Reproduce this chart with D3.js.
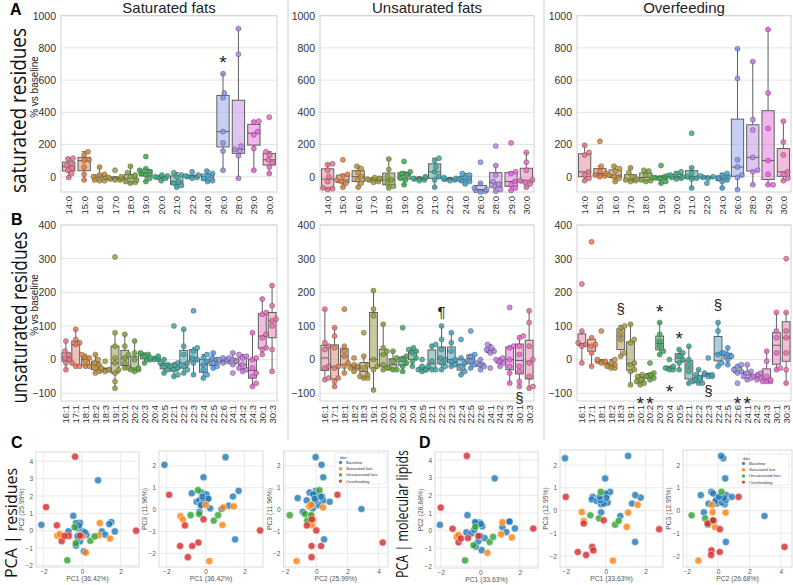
<!DOCTYPE html>
<html>
<head>
<meta charset="utf-8">
<script src="https://cdn.jsdelivr.net/npm/d3@7"></script>
<style>
  body { margin: 0; background: #fff; }
  svg { display: block; }
</style>
</head>
<body>
<svg id="fig" width="793" height="585"></svg>
<script>
// ---- categories ----
const satCats = ["14:0","15:0","16:0","17:0","18:0","19:0","20:0","21:0","22:0","24:0","26:0","28:0","29:0","30:0"];
const unsatCats = ["16:1","17:1","18:1","18:2","18:3","19:1","20:1","20:2","20:3","20:4","20:5","22:1","22:2","22:3","22:4","22:5","22:6","24:1","24:2","24:3","30:1","30:3"];
const dietTitles = ["Saturated fats", "Unsaturated fats", "Overfeeding"];

// ---- A: saturated residues, % vs baseline (one list of subjects per category) ----
const satResSat = [
  [115, 110, 85, 70, 55, 40, 20, -5], [155, 135, 105, 100, 60, 15, -20], [60, 15, 10, 0, -5, -20, -25, -25],
  [40, 0, -5, -10, -15, -20, -20], [65, 25, 10, 0, -20, -30, -35, -40], [125, 50, 40, 30, 20, 10, -10, -30],
  [10, 5, 0, -5, -10, -25], [25, 10, 0, -30, -40, -55, -65], [30, 10, 5, 0, -5, -10],
  [35, 20, 5, -10, -25, -30], [640, 520, 490, 280, 210, 160, 40], [920, 760, 190, 170, 160, 130, -10],
  [345, 340, 280, 260, 175, 40], [370, 155, 135, 105, 85, 60, 20]
];
const satResUnsat = [
  [80, 75, 40, 0, -30, -70, -75, -80], [105, 15, 5, -20, -30, -40, -65], [65, 50, 25, 0, -20, -40, -65],
  [-5, -10, -15, -15, -20, -30, -35], [110, 45, 0, -20, -40, -60, -70], [95, 30, 20, 10, -10, -20, -50],
  [0, -5, -10, -15, -20, -25], [115, 100, 60, 30, 0, -20, -65], [-5, -10, -15, -15, -20, -25],
  [20, 10, -5, -15, -25, -30, -45], [90, -40, -70, -80, -85, -90, -95], [190, 70, 10, -30, -45, -60, -80, -90],
  [210, 30, 20, -30, -50, -70, -85], [150, 90, 40, -20, -25, -35, -45, -65]
];
const satResOver = [
  [195, 150, 135, 30, 10, -10, -25], [220, 65, 35, 20, 10, 5, 0], [65, 50, 35, 10, 0, -10, -30],
  [55, 25, 0, -15, -20, -25, -30], [40, 35, 10, -5, -20, -25, -30], [70, 5, 0, -5, -10, -30, -40],
  [30, 20, 10, 0, -5, -10, -15], [270, 55, 20, 0, -10, -15, -70], [5, 0, -5, -10, -40],
  [20, 10, 0, -10, -20, -30, -70], [795, 610, 105, 60, 10, -5, -80], [715, 355, 290, 120, 40, 30, -50],
  [915, 520, 300, 100, 15, -50, -50], [345, 215, 135, 30, 15, -10, -25]
];

// ---- B: unsaturated residues ----
const unsatResSat = [
  [55, 25, 15, 5, 0, -10, -30], [90, 60, 50, 45, -10, -20, -20], [15, 10, 5, -5, -20, -20],
  [15, 0, -10, -15, -25, -35, -40], [-5, -25, -30, -30, -30, -35], [305, 80, 40, 5, -10, -30, -40, -65, -85],
  [75, 40, 15, 5, -10, -25, -25], [55, 20, 0, -25, -30, -30, -35], [20, 18, 15, 10, 0, -10],
  [10, 5, 5, 0, 0, 0], [0, -10, -15, -20, -30, -40], [100, -10, -15, -20, -25, -30, -45, -50],
  [90, 40, 15, -10, -20, -30, -40], [145, 35, 25, 5, 0, -10, -45], [15, 5, -5, -15, -30, -45, -55],
  [20, 5, 0, -10, -20, -25], [5, 0, -5, -10, -5, 0], [20, 5, 0, -5, -15, -40],
  [15, 10, 5, -15, -25, -35, -30], [80, 5, 0, -25, -40, -50, -70, -80], [180, 140, 135, 75, 65, 35, 15, 30],
  [220, 160, 120, 115, 100, 30, -35]
];
const unsatResUnsat = [
  [150, 50, 40, 30, -20, -25, -55, -60], [95, 70, 35, -20, -25, -55, -65, -80], [150, 40, 25, 10, -10, -20, -40],
  [5, -15, -20, -25, -25, -35], [80, 10, -15, -25, -45, -50, -55, -55], [205, 150, 130, 0, -20, -30, -90],
  [105, 35, 25, 15, -15, -25, -30], [25, 5, -5, -25, -30, -30], [95, 10, 0, -10, -20, -35],
  [35, 30, 25, 20, 5, -5, -20], [0, -20, -30, -30, -35, -30], [45, 40, -5, -20, -30, -30],
  [100, 60, 30, 5, 0, -10, -20, -30], [80, 50, 25, 0, -5, -15, -20], [60, 5, -10, -20, -35, -45],
  [85, 15, 10, -5, -15, -25], [0, -10, -15, -20, -30], [45, 35, 30, 25, 20, -25],
  [5, 0, -5, -10, -20], [155, 40, 35, 0, -20, -40, -70], [70, 65, 40, 15, -20, -35, -65, -80],
  [145, 110, 40, 0, -10, -50, -80, -85]
];
const unsatResOver = [
  [225, 85, 50, 45, 40, -10], [350, 65, 45, 40, 20, -20], [85, 0, -5, -5, -10, -10],
  [0, -10, -15, -20, -25, -25], [100, 95, 80, 60, 20, 10], [105, 60, 50, -10, -15, -30, -35, -75],
  [-45, -50, -60, -65, -70, -75], [-10, -40, -45, -50, -55, -60], [110, 75, 55, 40, 25, 15],
  [0, -20, -25, -30, -30], [30, 20, 10, 0, -10, -30], [40, 0, -15, -35, -65, -70],
  [-30, -45, -55, -60, -70, -70], [5, -40, -45, -45, -50, -50], [110, 85, 20, 15, -10, -20],
  [35, 20, 15, 10, 0, -15], [-15, -20, -30, -35, -40, -70], [-15, -35, -40, -50, -55, -60],
  [-40, -45, -50, -55, -60], [25, -5, -50, -60, -65, -65, -65], [140, 85, 65, 20, -25, -30],
  [300, 140, 85, 65, 20, -30, -70]
];

// significance marks: [diet index, category, value, symbol]
const marksA = [[0, "26:0", 740, "*"]];
const marksB = [
  [1, "22:2", 140, "¶"], [1, "30:1", -115, "§"],
  [2, "18:3", 150, "§"], [2, "20:1", -115, "*"], [2, "20:2", -115, "*"], [2, "20:3", 157, "*"],
  [2, "20:4", -80, "*"], [2, "20:5", 76, "*"], [2, "22:3", -95, "§"], [2, "22:4", 160, "§"],
  [2, "22:6", -115, "*"], [2, "24:1", -115, "*"]
];

// ---- C/D: PCA scores [PC1, PC2, PC3] ----
const dietNames = ["Baseline", "Saturated fats", "Unsaturated fats", "Overfeeding"];
const resBaseline = [
  [0.83, 2.9, 0.03], [-2.1, 0.34, 2.05], [1.03, -0.04, 2.4], [-0.1, 0.45, 1.48], [1.52, 0.5, -1.36],
  [0.1, -1.19, 0.53], [-0.31, -0.86, -0.1], [1.7, -0.04, 0.86], [1.41, 0.38, 0.6], [1.2, -0.23, 0.18],
  [-0.7, -0.04, 0.75], [-0.45, 0.86, 0.36], [0.24, -0.23, 0.06], [-0.31, 0.44, 0.42], [-0.24, 0.15, 0.21],
  [0.03, -0.04, 0.42], [-0.1, -0.61, 0.43], [-0.2, -0.43, 0.78], [0.05, -0.2, 0.7], [-0.22, -0.3, 0.21],
  [-0.15, 0.3, 0.59], [0.15, -0.1, 0.5]
];
const resSaturated = [
  [0.2, -1.26, -2.35], [0.87, -0.27, -0.7], [1.45, -0.45, 0.15], [0.92, 0.44, 0.1],
  [-1.28, -0.29, -0.3], [-1.15, -0.2, -0.45], [0.02, -0.32, 0.22]
];
const resUnsaturated = [
  [-0.38, 0.2, 0.89], [-0.76, -1.7, -0.25], [-0.32, -0.72, -0.2], [0.43, -0.58, -0.5], [0.65, -0.33, -0.25]
];
const resOverfeeding = [
  [-0.36, 4.26, -1.5], [-1.86, 1.36, 0.68], [2.8, 0.0, -0.95], [-1.05, -0.6, -0.72],
  [-0.1, -0.28, -0.44], [-1.3, 0.31, -1.66], [-0.68, -0.3, -1.66], [-0.9, -0.3, -2.17]
];
const lipBaseline = [
  [0.73, 2.96, -0.24], [-2.04, 0.33, 2.3], [1.12, 0.2, 2.4], [-0.03, 0.46, 1.41], [1.47, 0.5, -1.38],
  [0.07, -1.1, 0.68], [-0.23, -0.9, -0.08], [1.75, 0.13, 0.57], [1.48, 0.52, 0.68], [1.32, -0.08, 0.31],
  [-0.65, 0.88, 0.6], [-0.7, -0.1, 0.49], [0.22, -0.42, 0.82], [-0.45, -0.15, 0.42], [-0.23, 0.42, 0.28],
  [0.1, 0.25, 0.35], [-0.1, -0.6, 0.3], [0.0, -0.3, 0.75], [-0.26, 0.49, 0.45], [0.03, 0.38, 0.55],
  [-0.3, 0.05, 0.6]
];
const lipSaturated = [
  [0.36, -1.25, -2.2], [1.05, -0.2, -0.72], [1.6, -0.38, 0.25], [1.12, 0.48, -0.09],
  [-1.2, -0.35, -0.07], [-1.1, -0.25, -0.45]
];
const lipUnsaturated = [
  [-0.77, -1.68, -0.21], [-0.25, 0.22, 0.82], [-0.34, -0.82, -0.34], [0.47, -0.64, -0.62], [0.65, -0.35, -0.45]
];
const lipOverfeeding = [
  [-0.68, 4.23, -1.6], [-2.0, 1.31, 0.6], [2.68, 0.12, -0.82], [-1.4, 0.11, -1.82],
  [-1.1, -0.66, -0.57], [-0.62, -0.42, -1.75], [-0.98, -0.44, -1.95], [-0.1, -0.3, -0.43]
];
const resLabels = ["PC1 (36.42%)", "PC2 (25.99%)", "PC3 (11.96%)"];
const lipLabels = ["PC1 (33.63%)", "PC2 (26.68%)", "PC3 (12.95%)"];

// ---- styling ----
const FONT = '"Liberation Sans", Arial, sans-serif';
const dietColors = ["#1f77b4", "#ff7f0e", "#2ca02c", "#d62728"];
const GRID = "#e4e4e4", SPINE = "#d2d2d2", LINE = "#5f5f5f", TXT = "#333";

// seaborn "husl" palette (HSLuv)
const M = [[3.240969941904521, -1.537383177570093, -0.498610760293],
           [-0.96924363628087, 1.87596750150772, 0.041555057407175],
           [0.055630079696993, -0.20397695888897, 1.056971514242878]];
function maxChroma(L, H) {
  const hr = H / 180 * Math.PI, sub1 = Math.pow(L + 16, 3) / 1560896;
  const sub2 = sub1 > 0.0088564516 ? sub1 : L / 903.2962962;
  let best = Infinity;
  for (const [m1, m2, m3] of M) {
    for (const t of [0, 1]) {
      const top1 = (284517 * m1 - 94839 * m3) * sub2;
      const top2 = (838422 * m3 + 769860 * m2 + 731718 * m1) * L * sub2 - 769860 * t * L;
      const bot = (632260 * m3 - 126452 * m2) * sub2 + 126452 * t;
      const len = (top2 / bot) / (Math.sin(hr) - (top1 / bot) * Math.cos(hr));
      if (len > 0) best = Math.min(best, len);
    }
  }
  return best;
}
function husl(H, S, L) {
  const C = maxChroma(L, H) / 100 * S, hr = H / 180 * Math.PI;
  const U = Math.cos(hr) * C, V = Math.sin(hr) * C;
  const vu = U / (13 * L) + 0.19783000664283, vv = V / (13 * L) + 0.46831999493879;
  const Y = L > 8 ? Math.pow((L + 16) / 116, 3) : L / 903.2962962;
  const X = -(9 * Y * vu) / ((vu - 4) * vv - vu * vv);
  const Z = (9 * Y - 15 * vv * Y - vv * X) / (3 * vv);
  const f = c => c <= 0.0031308 ? 12.92 * c : 1.055 * Math.pow(c, 1 / 2.4) - 0.055;
  const rgb = M.map(r => Math.max(0, Math.min(1, f(r[0] * X + r[1] * Y + r[2] * Z))));
  return d3.rgb(rgb[0] * 255, rgb[1] * 255, rgb[2] * 255);
}
const huslPalette = n => d3.range(n).map(i => husl(((i / n + 0.01) % 1) * 359, 89.1, 64.35));

const svg = d3.select("#fig").style("font-family", FONT);

// dividers between the diet columns
[288, 544].forEach(x => svg.append("line").attr("x1", x).attr("x2", x).attr("y1", 0).attr("y2", 440)
  .attr("stroke", "#d0d0d0").attr("stroke-width", 1));

// ---- box + swarm panels ----
const colX = [[61, 277], [320, 534], [577, 791]];
const rows = [
  { cats: satCats, series: [satResSat, satResUnsat, satResOver], bottom: 192, top: 15.7,
    domain: [-95, 1000], ticks: d3.range(0, 1001, 200), marks: marksA, ylabY: 87 },
  { cats: unsatCats, series: [unsatResSat, unsatResUnsat, unsatResOver], bottom: 401, top: 225,
    domain: [-123, 400], ticks: d3.range(-100, 401, 100), marks: marksB, ylabY: 305 }
];

function swarm(vals, y, r, maxW) {
  const pts = vals.map(v => ({ v, py: y(v) })).sort((a, b) => b.py - a.py);
  const placed = [];
  pts.forEach(p => {
    const cands = [0];
    placed.forEach(q => {
      const dy = p.py - q.py;
      if (Math.abs(dy) < 2 * r) {
        const dx = Math.sqrt(4 * r * r - dy * dy);
        cands.push(q.dx + dx, q.dx - dx);
      }
    });
    cands.sort((a, b) => Math.abs(a) - Math.abs(b));
    p.dx = cands.find(c => placed.every(q => (q.dx - c) ** 2 + (q.py - p.py) ** 2 >= 4 * r * r - 1e-6));
    placed.push(p);
  });
  placed.forEach(p => { p.dx = Math.max(-maxW, Math.min(maxW, p.dx)); });
  return placed;
}

rows.forEach(row => {
  const pal = huslPalette(row.cats.length);
  const y = d3.scaleLinear().domain(row.domain).range([row.bottom, row.top]);

  row.series.forEach((data, di) => {
    const [xa, xb] = colX[di];
    const x = d3.scaleBand().domain(row.cats).range([xa, xb]);
    const g = svg.append("g");

    g.selectAll("line.grid").data(row.ticks).join("line")
      .attr("x1", xa).attr("x2", xb).attr("y1", d => y(d)).attr("y2", d => y(d))
      .attr("stroke", GRID).attr("stroke-width", 1);
    g.append("rect").attr("x", xa).attr("y", row.top).attr("width", xb - xa)
      .attr("height", row.bottom - row.top).attr("fill", "none").attr("stroke", SPINE);

    const yAx = g.append("g").attr("transform", `translate(${xa},0)`)
      .call(d3.axisLeft(y).tickValues(row.ticks).tickSize(0).tickPadding(5).tickFormat(d3.format("d")));
    yAx.select(".domain").remove();
    yAx.selectAll("text").attr("font-size", 10.5).attr("fill", TXT).attr("font-family", FONT);

    const xAx = g.append("g").attr("transform", `translate(0,${row.bottom})`)
      .call(d3.axisBottom(x).tickSize(0));
    xAx.select(".domain").remove();
    xAx.selectAll("text").attr("transform", "rotate(-90)").attr("text-anchor", "end")
      .attr("x", -4).attr("y", 0).attr("dy", null).attr("dominant-baseline", "central")
      .attr("font-size", 9.5).attr("fill", TXT).attr("font-family", FONT);

    const bw = x.bandwidth() * 0.8;
    row.cats.forEach((c, ci) => {
      const vals = data[ci].slice().sort(d3.ascending);
      const q1 = d3.quantile(vals, 0.25), med = d3.quantile(vals, 0.5), q3 = d3.quantile(vals, 0.75);
      const iqr = q3 - q1;
      const lo = d3.min(vals.filter(v => v >= q1 - 1.5 * iqr));
      const hi = d3.max(vals.filter(v => v <= q3 + 1.5 * iqr));
      const cx = x(c) + x.bandwidth() / 2;
      const fill = d3.hsl(pal[ci]); fill.s *= 0.75;
      const bg = g.append("g");
      [[lo, q1], [q3, hi]].forEach(([a, b]) => bg.append("line")
        .attr("x1", cx).attr("x2", cx).attr("y1", y(a)).attr("y2", y(b))
        .attr("stroke", LINE).attr("stroke-width", 1));
      [lo, hi].forEach(v => bg.append("line")
        .attr("x1", cx - bw * 0.2).attr("x2", cx + bw * 0.2).attr("y1", y(v)).attr("y2", y(v))
        .attr("stroke", LINE).attr("stroke-width", 1));
      bg.append("rect").attr("x", cx - bw / 2).attr("y", y(q3)).attr("width", bw)
        .attr("height", Math.max(0.5, y(q1) - y(q3)))
        .attr("fill", fill.formatHex()).attr("fill-opacity", 0.5)
        .attr("stroke", LINE).attr("stroke-width", 1);
      bg.append("line").attr("x1", cx - bw / 2).attr("x2", cx + bw / 2)
        .attr("y1", y(med)).attr("y2", y(med)).attr("stroke", LINE).attr("stroke-width", 1);

      const r = 2.5;
      bg.selectAll("circle").data(swarm(data[ci], y, r, bw / 2)).join("circle")
        .attr("cx", d => cx + d.dx).attr("cy", d => d.py).attr("r", r)
        .attr("fill", pal[ci].formatHex()).attr("fill-opacity", 0.85)
        .attr("stroke", "#555").attr("stroke-width", 0.5);
    });

    // column title
    if (row === rows[0]) {
      svg.append("text").attr("x", (xa + xb) / 2).attr("y", 12.5).attr("text-anchor", "middle")
        .attr("font-size", 15).attr("fill", "#222").text(dietTitles[di]);
    }
    // significance symbols
    row.marks.filter(m => m[0] === di).forEach(([, c, v, s]) => {
      const fs = s === "*" ? 19 : 15;
      const off = s === "*" ? 0.6 * fs : 0.3 * fs;
      g.append("text").attr("x", x(c) + x.bandwidth() / 2).attr("y", y(v) + off)
        .attr("text-anchor", "middle").attr("font-size", fs).attr("fill", "#222").text(s);
    });
  });

  svg.append("text").attr("transform", `translate(38,${row.ylabY}) rotate(-90)`)
    .attr("text-anchor", "middle").attr("font-size", 10).attr("fill", "#222").text("% vs baseline");
});

// ---- row labels ----
const bigLabel = (x, y, txt, fs, len) => svg.append("text")
  .attr("transform", `translate(${x},${y}) rotate(-90)`).attr("text-anchor", "middle")
  .attr("font-family", '"Open Sans", "Noto Sans", sans-serif').attr("font-size", fs).attr("fill", "#111")
  .attr("textLength", len).attr("lengthAdjust", "spacingAndGlyphs").text(txt);
bigLabel(26, 110.5, "saturated residues", 22, 165);
bigLabel(27, 317.5, "unsaturated residues", 22, 172);
bigLabel(17, 523, "PCA | residues", 16, 110);
bigLabel(408, 514, "PCA | molecular lipids", 16, 128);

[["A", 10, 15], ["B", 11, 225], ["C", 11, 448], ["D", 419, 448]].forEach(([t, x, y]) =>
  svg.append("text").attr("x", x).attr("y", y).attr("font-size", 16).attr("font-weight", "bold")
    .attr("fill", "#000").text(t));

// ---- PCA scatter panels ----
const resSets = [resBaseline, resSaturated, resUnsaturated, resOverfeeding];
const lipSets = [lipBaseline, lipSaturated, lipUnsaturated, lipOverfeeding];
const scatterPanels = [
  { sets: resSets, labels: resLabels, xi: 0, yi: 1, box: [36, 452, 139, 567], xd: [-2.38, 2.95], yd: [-2.09, 4.53], xt: [-2, 0, 2], yt: d3.range(-2, 5) },
  { sets: resSets, labels: resLabels, xi: 0, yi: 2, box: [159, 451, 263, 567], xd: [-2.38, 2.95], yd: [-2.62, 2.68], xt: [-2, 0, 2], yt: d3.range(-2, 3) },
  { sets: resSets, labels: resLabels, xi: 1, yi: 2, box: [283.5, 451, 388, 567], xd: [-2.1, 4.6], yd: [-2.62, 2.68], xt: [-2, 0, 2, 4], yt: d3.range(-2, 3), legend: [335, 453] },
  { sets: lipSets, labels: lipLabels, xi: 0, yi: 1, box: [435, 452, 538, 568], xd: [-2.29, 2.92], yd: [-2.11, 4.45], xt: [-2, 0, 2], yt: d3.range(-2, 5) },
  { sets: lipSets, labels: lipLabels, xi: 0, yi: 2, box: [560, 450, 663, 567], xd: [-2.29, 2.87], yd: [-2.48, 2.66], xt: [-2, 0, 2], yt: d3.range(-2, 3) },
  { sets: lipSets, labels: lipLabels, xi: 1, yi: 2, box: [683, 450, 792, 567], xd: [-2.23, 4.71], yd: [-2.48, 2.66], xt: [-2, 0, 2, 4], yt: d3.range(-2, 3), legend: [738, 454] }
];

scatterPanels.forEach(p => {
  const [x0, y0, x1, y1] = p.box;
  const x = d3.scaleLinear().domain(p.xd).range([x0, x1]);
  const y = d3.scaleLinear().domain(p.yd).range([y1, y0]);
  const g = svg.append("g");
  g.selectAll("line.gy").data(p.yt).join("line").attr("x1", x0).attr("x2", x1)
    .attr("y1", d => y(d)).attr("y2", d => y(d)).attr("stroke", GRID).attr("stroke-width", 0.8);
  g.selectAll("line.gx").data(p.xt).join("line").attr("y1", y0).attr("y2", y1)
    .attr("x1", d => x(d)).attr("x2", d => x(d)).attr("stroke", GRID).attr("stroke-width", 0.8);
  g.append("rect").attr("x", x0).attr("y", y0).attr("width", x1 - x0).attr("height", y1 - y0)
    .attr("fill", "none").attr("stroke", SPINE).attr("stroke-width", 0.8);

  const yAx = g.append("g").attr("transform", `translate(${x0},0)`)
    .call(d3.axisLeft(y).tickValues(p.yt).tickSize(0).tickPadding(3).tickFormat(d3.format("d")));
  const xAx = g.append("g").attr("transform", `translate(0,${y1})`)
    .call(d3.axisBottom(x).tickValues(p.xt).tickSize(0).tickPadding(2).tickFormat(d3.format("d")));
  [yAx, xAx].forEach(a => {
    a.select(".domain").remove();
    a.selectAll("text").attr("font-size", 6.5).attr("fill", "#555").attr("font-family", FONT);
  });
  g.append("text").attr("x", (x0 + x1) / 2).attr("y", y1 + 14).attr("text-anchor", "middle")
    .attr("font-size", 6.8).attr("fill", "#555").text(p.labels[p.xi]);
  g.append("text").attr("transform", `translate(${x0 - 12},${(y0 + y1) / 2}) rotate(-90)`)
    .attr("text-anchor", "middle").attr("font-size", 6.8).attr("fill", "#555").text(p.labels[p.yi]);

  p.sets.forEach((set, si) => {
    g.selectAll(null).data(set).join("circle")
      .attr("cx", d => x(d[p.xi])).attr("cy", d => y(d[p.yi])).attr("r", 3.6)
      .attr("fill", dietColors[si]).attr("fill-opacity", 0.8)
      .attr("stroke", "#fff").attr("stroke-width", 0.5);
  });

  if (p.legend) {
    const [lx, ly] = p.legend;
    const lg = g.append("g").attr("transform", `translate(${lx},${ly})`);
    lg.append("rect").attr("width", 51).attr("height", 31).attr("rx", 1.5)
      .attr("fill", "#fff").attr("fill-opacity", 0.85).attr("stroke", "#d8d8d8").attr("stroke-width", 0.5);
    lg.append("text").attr("x", 5).attr("y", 5.5).attr("font-size", 4.3).attr("fill", "#333").text("diet");
    dietNames.forEach((n, i) => {
      lg.append("circle").attr("cx", 5.5).attr("cy", 9.5 + i * 6.2).attr("r", 1.7)
        .attr("fill", dietColors[i]).attr("fill-opacity", 0.85);
      lg.append("text").attr("x", 11).attr("y", 11 + i * 6.2).attr("font-size", 4.3)
        .attr("fill", "#333").text(n);
    });
  }
});
</script>
</body>
</html>
